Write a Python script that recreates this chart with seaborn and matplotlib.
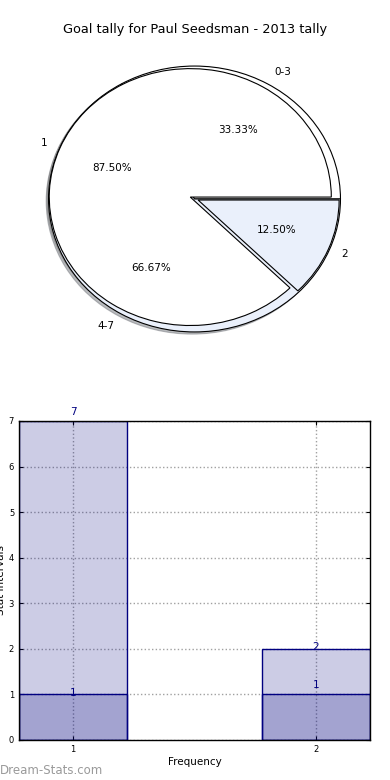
import matplotlib
matplotlib.use('Agg')
import matplotlib.pyplot as plt
import seaborn as sns
import pandas as pd

title = 'Goal tally for Paul Seedsman - 2013 tally'

# pie data (outer ring drawn first, inner pie on top)
outer_labels = ['0-3', '4-7']
outer_values = [1, 2]
inner_labels = ['1', '2']
inner_values = [7, 1]

# bar data
freq_labels = ['1', '2']
total_counts = [7, 2]
base_counts = [1, 1]

pie_colors = ['white', '#eaf0fb']
bar_face = (0, 0, 0.5, 0.2)

fig = plt.figure(figsize=(3.9, 7.8), dpi=100)

# --- pie ---
ax_pie = fig.add_axes([0.0359, 0.5415, 0.904, 0.4117])
wedge_kw = dict(edgecolor='black', linewidth=0.8)
text_kw = dict(fontsize=7.5)
shadow_kw = dict(ox=-0.012, oy=-0.012, shade=0.5)
ax_pie.pie(outer_values, labels=outer_labels, center=(0.03, -0.015), radius=1.035,
           colors=pie_colors, autopct='%.2f%%', shadow=shadow_kw,
           wedgeprops=wedge_kw, textprops=text_kw)
ax_pie.pie(inner_values, labels=inner_labels, explode=(0, 0.06),
           colors=pie_colors, autopct='%.2f%%', shadow=shadow_kw,
           wedgeprops=wedge_kw, textprops=text_kw)
ax_pie.set_aspect('auto')
ax_pie.set_xlim(-1.25, 1.25)
ax_pie.set_ylim(-1.25, 1.25)
fig.text(0.5, 1 - 30 / 780, title, ha='center', va='center', fontsize=9.3)

# --- bars ---
ax_bar = fig.add_axes([0.0487, 0.0513, 0.9, 0.409])
df = pd.DataFrame({'Frequency': freq_labels, 'Total': total_counts, 'Base': base_counts})
for col in ['Total', 'Base']:
    sns.barplot(data=df, x='Frequency', y=col, color='navy', saturation=1,
                width=0.445, errorbar=None, ax=ax_bar)
for p in ax_bar.patches:
    p.set_facecolor(bar_face)
    p.set_edgecolor('navy')
    p.set_linewidth(1)

label_dy = [[0.2, 0.04], [0.04, 0.2]]
for i, (t, b) in enumerate(zip(total_counts, base_counts)):
    ax_bar.text(i, t + label_dy[i][0], str(t), ha='center', va='center',
                color='navy', fontsize=7.5)
    ax_bar.text(i, b + label_dy[i][1], str(b), ha='center', va='center',
                color='navy', fontsize=7.5)

ax_bar.set_xlim(-0.2225, 1.2225)
ax_bar.set_ylim(0, 7)
ax_bar.set_yticks(range(0, 8))
ax_bar.grid(True, linestyle=':', color='#a0a0a0', linewidth=1)
ax_bar.set_axisbelow(True)
ax_bar.tick_params(labelsize=6, direction='in', top=True, right=True, length=3)
ax_bar.set_xlabel('Frequency', fontsize=7.5, labelpad=2)
ax_bar.set_ylabel('Stat Intervals', fontsize=7.5, labelpad=2)
for s in ax_bar.spines.values():
    s.set_color('black')
    s.set_linewidth(1)

fig.text(0.0, 0.0128, 'Dream-Stats.com', color='#9a9a9a', fontsize=8.5,
         va='center', ha='left')

fig.savefig('out.png', dpi=100)
